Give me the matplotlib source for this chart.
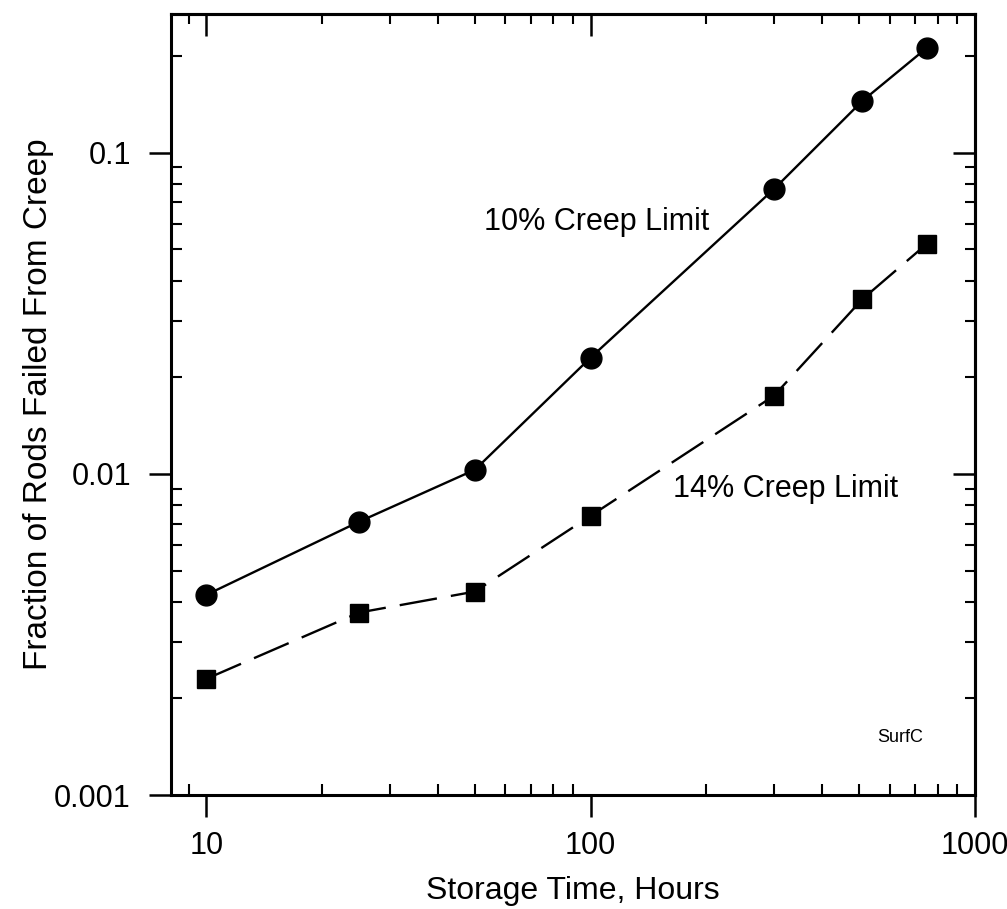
# -*- coding: utf-8 -*-

import numpy as np
import matplotlib
matplotlib.use('Agg')
import matplotlib.pyplot as plt
from matplotlib.ticker import LogLocator, NullFormatter, FixedLocator, FixedFormatter

plt.rcParams['font.family'] = ['Liberation Sans', 'DejaVu Sans']

# storage time (hours) and fraction of rods failed
hours = [10, 25, 50, 100, 300, 510, 750]
frac_10 = [0.0042, 0.0071, 0.0103, 0.023, 0.077, 0.145, 0.212]
frac_14 = [0.0023, 0.0037, 0.0043, 0.0074, 0.0175, 0.035, 0.052]

xticks = [10, 100, 1000]
xlabels = ['10', '100', '1000']
yticks = [0.001, 0.01, 0.1]
ylabels = ['0.001', '0.01', '0.1']

fig = plt.figure(figsize=(10.07, 9.09), dpi=100)
ax = fig.add_axes([0.170, 0.1254, 0.798, 0.859])

ax.plot(hours, frac_10, color='black', lw=1.7, marker='o', ms=15)
ax.plot(hours, frac_14, color='black', lw=1.7, marker='s', ms=13.5, dashes=(16, 6))

ax.set_xscale('log')
ax.set_yscale('log')
ax.set_xlim(8.1, 1000)
ax.set_ylim(0.001, 0.27)

ax.xaxis.set_major_locator(FixedLocator(xticks))
ax.xaxis.set_major_formatter(FixedFormatter(xlabels))
ax.yaxis.set_major_locator(FixedLocator(yticks))
ax.yaxis.set_major_formatter(FixedFormatter(ylabels))
ax.xaxis.set_minor_locator(LogLocator(base=10, subs=np.arange(2, 10)))
ax.yaxis.set_minor_locator(LogLocator(base=10, subs=np.arange(2, 10)))
ax.xaxis.set_minor_formatter(NullFormatter())
ax.yaxis.set_minor_formatter(NullFormatter())

ax.tick_params(which='major', direction='out', length=16, width=1.8, labelsize=22)
ax.tick_params(axis='y', which='major', pad=13)
ax.tick_params(axis='x', which='major', pad=10)
ax.tick_params(which='minor', direction='in', length=8, width=1.5)
for s in ax.spines.values():
    s.set_linewidth(2.2)

# inward ticks on top and right
top = ax.secondary_xaxis('top')
top.xaxis.set_major_locator(FixedLocator(xticks))
top.xaxis.set_minor_locator(LogLocator(base=10, subs=np.arange(2, 10)))
top.tick_params(which='major', direction='in', length=16, width=1.8, labeltop=False)
top.tick_params(which='minor', direction='in', length=7, width=1.5)
top.xaxis.set_major_formatter(NullFormatter())
top.xaxis.set_minor_formatter(NullFormatter())
top.spines['top'].set_linewidth(2.2)

right = ax.secondary_yaxis('right')
right.yaxis.set_major_locator(FixedLocator(yticks))
right.yaxis.set_minor_locator(LogLocator(base=10, subs=np.arange(2, 10)))
right.tick_params(which='major', direction='in', length=16, width=1.8, labelright=False)
right.tick_params(which='minor', direction='in', length=7, width=1.5)
right.yaxis.set_major_formatter(NullFormatter())
right.yaxis.set_minor_formatter(NullFormatter())
right.spines['right'].set_linewidth(2.2)

ax.set_xlabel('Storage Time, Hours', fontsize=23, labelpad=11)
ax.set_ylabel('Fraction of Rods Failed From Creep', fontsize=24, labelpad=0)

ax.text(104, 0.061, '10% Creep Limit', fontsize=22, ha='center', va='center')
ax.text(322, 0.0090, '14% Creep Limit', fontsize=22, ha='center', va='center')
ax.text(641, 0.00151, 'SurfC', fontsize=13, ha='center', va='center')

fig.savefig('out.png', dpi=100)
